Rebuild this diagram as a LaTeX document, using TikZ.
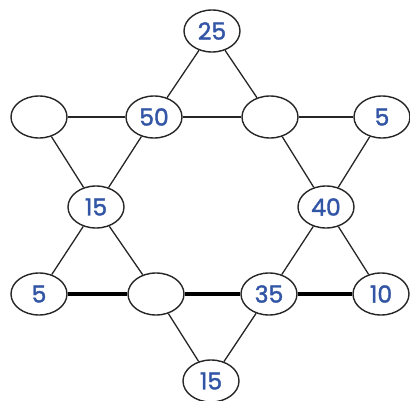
\documentclass[tikz,border=0pt]{standalone}
\usepackage{fontspec}
\setmainfont{Poppins}
\newfontfamily\numfont{Poppins}[FakeBold=1.6]
\usetikzlibrary{shapes.geometric}
\definecolor{numblue}{RGB}{50,85,165}
\begin{document}
\begin{tikzpicture}[x=1pt,y=-1pt,
  cell/.style={ellipse,draw=black!85,line width=1.4pt,fill=white,minimum width=56pt,minimum height=42pt,inner sep=0pt,text=numblue,font=\numfont\fontsize{23.5}{23.5}\selectfont},
  thin/.style={line width=1.3pt,draw=black!85},
  thick/.style={line width=3.6pt,draw=black}]
\useasboundingbox (0,0) rectangle (410,401);
\node[cell] (t) at (212,31) {25};
\node[cell] (l1) at (39,117) {};
\node[cell] (a) at (154,117) {50};
\node[cell] (b) at (270,117) {};
\node[cell] (r1) at (382,117) {5};
\node[cell] (c) at (96,207) {15};
\node[cell] (d) at (326,207) {40};
\node[cell] (l2) at (39,294) {5};
\node[cell] (e) at (156,294) {};
\node[cell] (f) at (269,294) {35};
\node[cell] (r2) at (381,294) {10};
\node[cell] (bt) at (211,381) {15};
\draw[thin] (t) -- (a);
\draw[thin] (t) -- (b);
\draw[thin] (l1) -- (a);
\draw[thin] (a) -- (b);
\draw[thin] (b) -- (r1);
\draw[thin] (l1) -- (c);
\draw[thin] (a) -- (c);
\draw[thin] (b) -- (d);
\draw[thin] (r1) -- (d);
\draw[thin] (c) -- (l2);
\draw[thin] (c) -- (e);
\draw[thin] (d) -- (f);
\draw[thin] (d) -- (r2);
\draw[thick] (l2) -- (e);
\draw[thick] (e) -- (f);
\draw[thick] (f) -- (r2);
\draw[thin] (e) -- (bt);
\draw[thin] (f) -- (bt);
\end{tikzpicture}
\end{document}
